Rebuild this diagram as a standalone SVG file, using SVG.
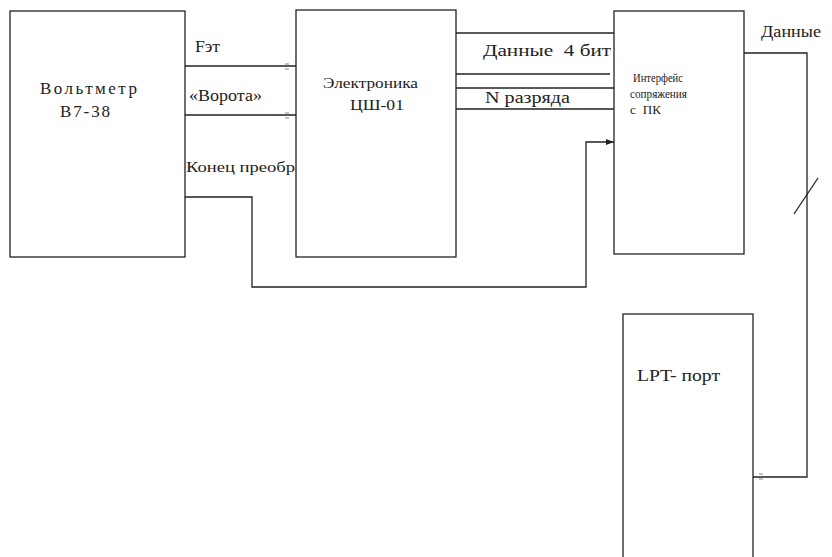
<svg xmlns="http://www.w3.org/2000/svg" width="832" height="557" viewBox="0 0 832 557">
<style>
.box{fill:#fff;stroke:#222;stroke-width:1.3}
.ln{fill:none;stroke:#222;stroke-width:1.3}
.tk{fill:none;stroke:#888;stroke-width:1}
text{fill:#222}
</style>
<defs>
<marker id="ah" markerWidth="8" markerHeight="6" refX="8" refY="3" orient="auto" markerUnits="userSpaceOnUse">
<path d="M0,0 L8,3 L0,6 z" fill="#222"/>
</marker>
</defs>
<rect width="832" height="557" fill="#fff"/>
<g font-family="Liberation Serif, Times New Roman, serif">
<g id="connectors">
<path class="ln" d="M185,66 H296"/>
<path class="ln" d="M185,115 H296"/>
<path class="tk" d="M285,64 h4 M285,69 h4 M285,113 h4 M285,118 h4"/>
<path class="ln" d="M185,197 H252 V287 H586 V142 H614" marker-end="url(#ah)"/>
<path class="ln" d="M456,33 H614"/>
<path class="ln" d="M456,74 H610"/>
<path class="ln" d="M456,88 H614"/>
<path class="ln" d="M456,109 H614"/>
<path class="ln" d="M744,53 H807 V477 H753"/>
<path class="ln" d="M794,214 L818,178"/>
<path class="tk" d="M759,474 h4 M759,479 h4"/>
<text x="195" y="52" font-size="16" textLength="25" lengthAdjust="spacingAndGlyphs">Fэт</text>
<text x="189" y="101" font-size="16" textLength="73" lengthAdjust="spacingAndGlyphs">«Ворота»</text>
<text x="186" y="172" font-size="14" textLength="109" lengthAdjust="spacingAndGlyphs">Конец преобр</text>
<text x="483" y="56" font-size="17" textLength="128" lengthAdjust="spacingAndGlyphs" xml:space="preserve">Данные  4 бит</text>
<text x="485" y="103" font-size="16" textLength="85" lengthAdjust="spacingAndGlyphs">N разряда</text>
<text x="761" y="37" font-size="17" textLength="60" lengthAdjust="spacingAndGlyphs">Данные</text>
</g>
<g id="voltmeter">
<rect class="box" x="10" y="11" width="175" height="246"/>
<text x="40" y="94" font-size="17" textLength="97" lengthAdjust="spacing">Вольтметр</text>
<text x="60" y="117" font-size="17" textLength="50" lengthAdjust="spacing">В7-38</text>
</g>
<g id="electronics">
<rect class="box" x="296" y="10" width="160" height="247"/>
<text x="323" y="88" font-size="14" textLength="95" lengthAdjust="spacingAndGlyphs">Электроника</text>
<text x="350" y="110" font-size="14" textLength="54" lengthAdjust="spacingAndGlyphs">ЦШ-01</text>
</g>
<g id="interface">
<rect class="box" x="614" y="11" width="130" height="243"/>
<text x="633" y="82" font-size="13" textLength="50" lengthAdjust="spacingAndGlyphs">Интерфейс</text>
<text x="630" y="98" font-size="13" textLength="57" lengthAdjust="spacingAndGlyphs">сопряжения</text>
<text x="630" y="114" font-size="13" textLength="31" lengthAdjust="spacing" xml:space="preserve">с  ПК</text>
</g>
<g id="lpt">
<rect class="box" x="623" y="314" width="130" height="260"/>
<text x="637" y="381" font-size="16" textLength="83" lengthAdjust="spacingAndGlyphs">LPT- порт</text>
</g>
</g>
</svg>
